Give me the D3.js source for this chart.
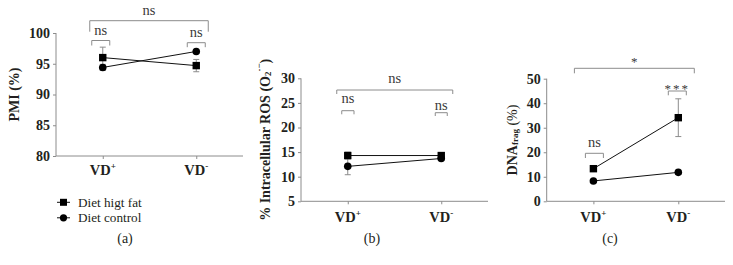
<!DOCTYPE html>
<html><head><meta charset="utf-8">
<script src="https://cdn.jsdelivr.net/npm/d3@7"></script>
<style>
body{margin:0;background:#fff;}
svg{display:block;font-family:"Liberation Serif","DejaVu Serif",serif;}
</style></head>
<body><svg id="c" width="733" height="265"></svg>
<script>
// ---- data ----
const categories = ["VD+", "VD-"];
const seriesNames = ["Diet higt fat", "Diet control"];
// Panel (a) PMI (%)
const pmiHighFat = [96.0, 94.7];
const pmiHighFatErr = [1.7, 1.0];
const pmiControl = [94.4, 97.0];
const pmiControlErr = [0.5, 0.2];
const pmiTicks = [80, 85, 90, 95, 100];
// Panel (b) Intracellular ROS
const rosHighFat = [14.3, 14.3];
const rosHighFatErr = [0.7, 0.3];
const rosControl = [12.1, 13.7];
const rosControlErr = [1.7, 0.3];
const rosTicks = [5, 10, 15, 20, 25, 30];
// Panel (c) DNA frag
const dnaHighFat = [13.3, 34.1];
const dnaHighFatErr = [0.8, 7.7];
const dnaControl = [8.3, 11.8];
const dnaControlErr = [0.4, 0.8];
const dnaTicks = [0, 10, 20, 30, 40, 50];
// significance labels: [overall, VD+, VD-]
const pmiSig = ["ns", "ns", "ns"];
const rosSig = ["ns", "ns", "ns"];
const dnaSig = ["*", "ns", "***"];

const svg = d3.select("#c");
const AX = "#8c8c8c";
const TXT = "#231f20";

const panels = [
  {key:"a", x0:56, x1:243, yTop:33, yBot:156, domain:[80,100], ticks:pmiTicks, pad:0.5,
   hf:pmiHighFat, hfE:pmiHighFatErr, ct:pmiControl, ctE:pmiControlErr, sig:pmiSig,
   catY:175, labY:243, labX:125, ylabX:14,
   br:{top:{l:-13,r:12,y:20.7,leg:11,ty:15}, p:{l:-11,r:7,y:40.5,leg:5,ty:35}, m:{l:-9,r:9,y:42.7,leg:4.5,ty:37}}},
  {key:"b", x0:301, x1:488, yTop:78.3, yBot:201.3, domain:[5,30], ticks:rosTicks, pad:0.5,
   hf:rosHighFat, hfE:rosHighFatErr, ct:rosControl, ctE:rosControlErr, sig:rosSig,
   catY:222, labY:243, labX:372, ylabX:265,
   br:{top:{l:-11,r:11.5,y:90,leg:4,ty:83}, p:{l:-6,r:6.25,y:110.7,leg:3.6,ty:103}, m:{l:-6,r:6,y:112.7,leg:3.3,ty:110}}},
  {key:"c", x0:546.7, x1:725, yTop:78.7, yBot:201.3, domain:[0,50], ticks:dnaTicks, pad:0.55,
   hf:dnaHighFat, hfE:dnaHighFatErr, ct:dnaControl, ctE:dnaControlErr, sig:dnaSig,
   catY:222, labY:243, labX:610, ylabX:512,
   br:{top:{l:-19,r:16,y:68.3,leg:5,ty:66}, p:{l:-8,r:10,y:153.3,leg:4.7,ty:147}, m:{l:-10,r:8,y:91,leg:4.3,ty:93}}}
];

panels.forEach(p => {
  const g = svg.append("g");
  const x = d3.scalePoint().domain(categories).range([p.x0, p.x1]).padding(p.pad);
  const y = d3.scaleLinear().domain(p.domain).range([p.yBot, p.yTop]);

  // y axis
  const ya = g.append("g").attr("transform", `translate(${p.x0},0)`)
    .call(d3.axisLeft(y).tickValues(p.ticks).tickSize(3).tickPadding(3).tickFormat(d3.format("d")));
  ya.attr("font-family", null);
  ya.select(".domain").attr("stroke", AX).attr("d", `M-0,${p.yBot}V${p.yTop}`);
  ya.selectAll(".tick line").attr("stroke", AX);
  ya.selectAll(".tick text").attr("fill", TXT).attr("font-size", 14).attr("font-weight", "bold")
    .attr("font-family", "Liberation Serif, serif");

  // x axis
  const xa = g.append("g").attr("transform", `translate(0,${p.yBot})`)
    .call(d3.axisBottom(x).tickSize(3).tickFormat(""));
  xa.select(".domain").attr("stroke", AX).attr("d", `M${p.x0},0H${p.x1}`);
  xa.selectAll(".tick line").attr("stroke", AX);
  categories.forEach(c => {
    const t = g.append("text").attr("x", x(c)).attr("y", p.catY).attr("text-anchor", "middle")
      .attr("font-size", 14.5).attr("font-weight", "bold").attr("fill", TXT);
    t.append("tspan").text("VD");
    t.append("tspan").attr("font-size", 9).attr("dy", -6).text(c.endsWith("+") ? "+" : "-");
  });

  // lines + error bars + markers
  const series = [
    {v:p.hf, e:p.hfE, shape:"square"},
    {v:p.ct, e:p.ctE, shape:"circle"}
  ];
  series.forEach(s => {
    s.v.forEach((v, i) => {
      const cx = x(categories[i]);
      const y1 = y(v + s.e[i]), y2 = y(v - s.e[i]);
      g.append("line").attr("x1", cx).attr("x2", cx).attr("y1", y1).attr("y2", y2).attr("stroke", AX).attr("stroke-width", 1);
      [y1, y2].forEach(yy => g.append("line").attr("x1", cx - 3).attr("x2", cx + 3).attr("y1", yy).attr("y2", yy).attr("stroke", AX).attr("stroke-width", 1));
    });
  });
  series.forEach(s => {
    const line = d3.line().x((d, i) => x(categories[i])).y(d => y(d));
    g.append("path").attr("d", line(s.v)).attr("fill", "none").attr("stroke", "#111").attr("stroke-width", 1);
  });
  series.forEach(s => {
    s.v.forEach((v, i) => {
      const cx = x(categories[i]), cy = y(v);
      if (s.shape === "square") g.append("rect").attr("x", cx - 3.7).attr("y", cy - 3.7).attr("width", 7.4).attr("height", 7.4).attr("fill", "#000");
      else g.append("circle").attr("cx", cx).attr("cy", cy).attr("r", 3.8).attr("fill", "#000");
    });
  });

  // brackets
  const drawBr = (b, cxL, cxR, label) => {
    const l = cxL + b.l, r = cxR + b.r;
    g.append("path").attr("d", `M${l},${b.y + b.leg}V${b.y}H${r}V${b.y + b.leg}`)
      .attr("fill", "none").attr("stroke", AX).attr("stroke-width", 1);
    g.append("text").attr("x", (l + r) / 2).attr("y", b.ty).attr("text-anchor", "middle")
      .attr("font-size", label.includes("*") ? 13 : 14.5).attr("fill", "#3a3a3a")
      .attr("letter-spacing", label === "***" ? 2 : 0).text(label);
  };
  drawBr(p.br.top, x(categories[0]), x(categories[1]), p.sig[0]);
  drawBr(p.br.p, x(categories[0]), x(categories[0]), p.sig[1]);
  drawBr(p.br.m, x(categories[1]), x(categories[1]), p.sig[2]);

  // panel label
  g.append("text").attr("x", p.labX).attr("y", p.labY).attr("text-anchor", "middle")
    .attr("font-size", 14).attr("fill", TXT).text(`(${p.key})`);

  // y label
  const yc = (p.yTop + p.yBot) / 2;
  const yl = g.append("text").attr("transform", `translate(${p.ylabX},${yc}) rotate(-90)`)
    .attr("text-anchor", "middle").attr("dominant-baseline", "central")
    .attr("font-size", 14).attr("font-weight", "bold").attr("fill", TXT);
  if (p.key === "a") {
    yl.text("PMI (%)");
  } else if (p.key === "b") {
    yl.append("tspan").text("% Intracellular ROS (O");
    yl.append("tspan").attr("font-size", 9).attr("dy", 3).text("2");
    yl.append("tspan").attr("font-size", 9).attr("dy", -9).text("·−");
    yl.append("tspan").attr("dy", 6).text(")");
  } else {
    yl.append("tspan").text("DNA");
    yl.append("tspan").attr("font-size", 9).attr("dy", 3).text("frag");
    yl.append("tspan").attr("dy", -3).attr("font-weight", "normal").text(" (%)");
  }
});

// legend
const legY = [202.3, 217.8];
seriesNames.forEach((n, i) => {
  const lg = svg.append("g");
  lg.append("line").attr("x1", 57).attr("x2", 70).attr("y1", legY[i]).attr("y2", legY[i]).attr("stroke", "#111");
  if (i === 0) lg.append("rect").attr("x", 63.5 - 3.5).attr("y", legY[i] - 3.5).attr("width", 7).attr("height", 7).attr("fill", "#000");
  else lg.append("circle").attr("cx", 63.5).attr("cy", legY[i]).attr("r", 3.6).attr("fill", "#000");
  lg.append("text").attr("x", 78).attr("y", legY[i] + 4.3).attr("font-size", 13.2).attr("fill", TXT).text(n);
});
</script></body></html>
